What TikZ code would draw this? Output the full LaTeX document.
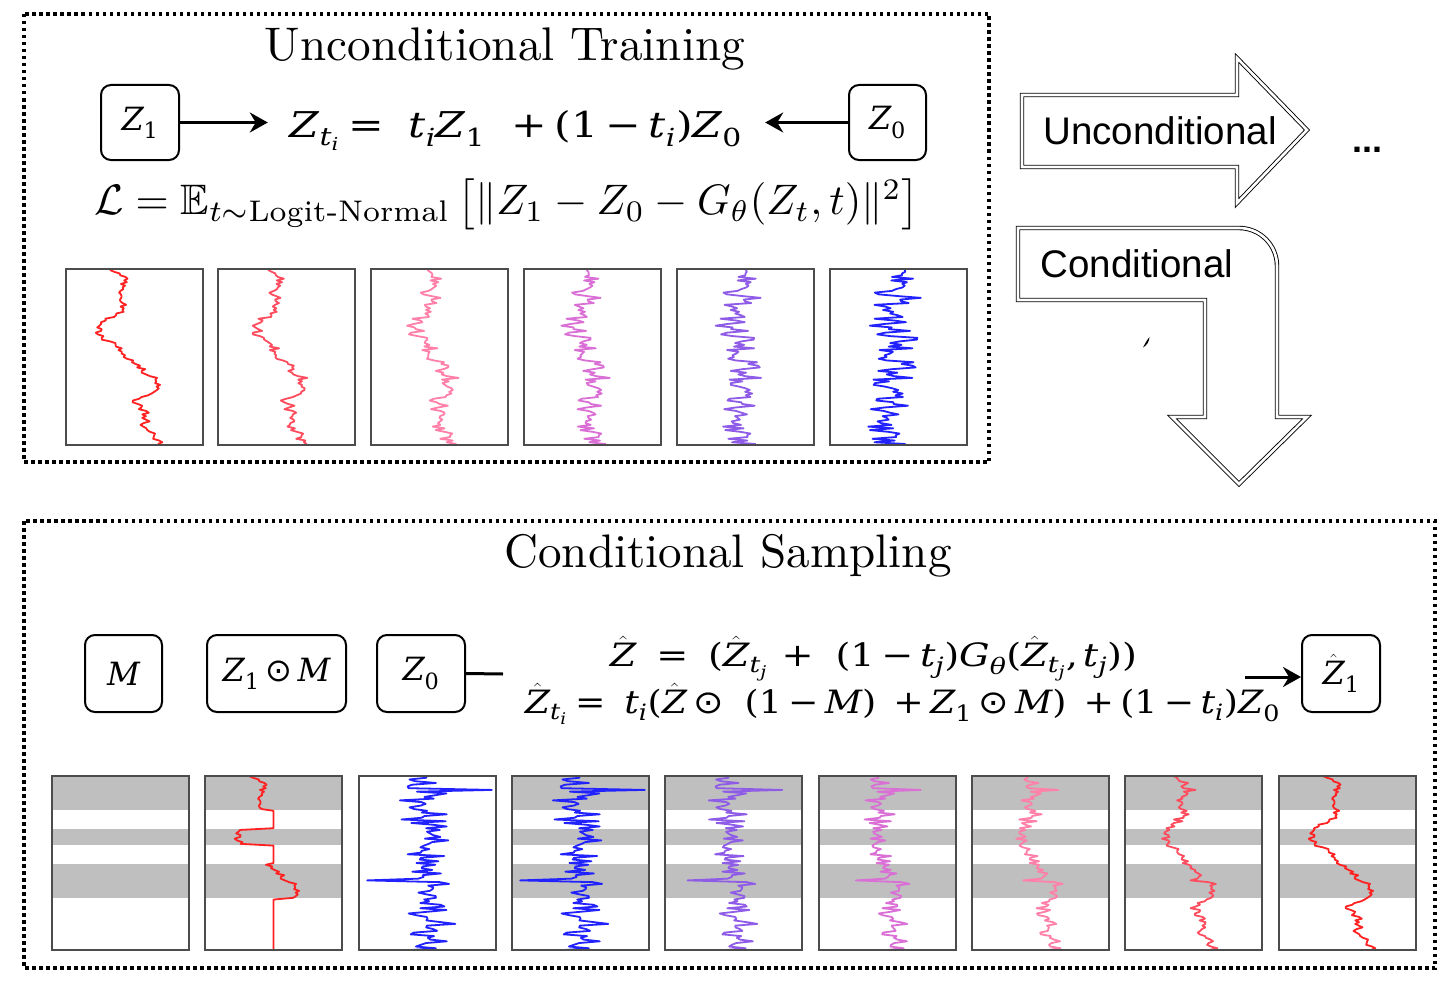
\documentclass[tikz,border=0pt]{standalone}
\usepackage{fontspec}
\usepackage{amsmath,amssymb}
\usepackage{graphicx}
\usetikzlibrary{arrows.meta}
\newfontfamily\ser{DejaVu Serif}
\newfontfamily\dvs{DejaVu Sans}
\newfontfamily\hel{Liberation Sans}
\newcommand\V[1]{\text{\ser\itshape #1}}
\newcommand\N[1]{\text{\ser #1}}
\newcommand\Pl{\mathbin{\N{+}}}
\newcommand\Mi{\mathbin{\N{−}}}
\newcommand\Eq{\mathrel{\N{=}}}
\newcommand\Od{\mathbin{\text{\dvs ⊙}}}
\newcommand\Zh{\hat{\V{Z}}}
\newcommand\Sp[1]{\hskip #1em\relax}
\newcommand\curveplot[7]{% #1 xleft, #2 ytop, #3 height, #4 t, #5 style, #6 arrayA, #7 arrayB
  \draw[curvest,#5] ({#1+137*(#4*\csname #60\endcsname+(1-#4)*\csname #70\endcsname)},#2)
   \foreach \i in {1,...,100}{ -- ({#1+137*(#4*\csname #6\i\endcsname+(1-#4)*\csname #7\i\endcsname)},{#2+(#3/100)*\i}) };
}
\newcommand\bandfill[1]{%
  \fill[bandst] (#1,776) rectangle ++(137,34);
  \fill[bandst] (#1,829) rectangle ++(137,16);
  \fill[bandst] (#1,864) rectangle ++(137,34);}
\definecolor{c0}{HTML}{FF2222}
\definecolor{c1}{HTML}{FF4D60}
\definecolor{c2}{HTML}{FF80A8}
\definecolor{c3}{HTML}{DA70D6}
\definecolor{c4}{HTML}{8F5CE8}
\definecolor{c5}{HTML}{2222FF}
\begin{document}
\begin{tikzpicture}[x=1pt,y=-1pt,
  frame/.style={line width=3.5pt,dash pattern=on 3.5pt off 3.5pt},
  rbox/.style={draw,line width=2pt,rounded corners=10pt,inner sep=0pt,font=\fontsize{32}{38}\selectfont},
  eqn/.style={anchor=base,inner sep=0pt,font=\fontsize{32}{38}\selectfont},
  arr/.style={line width=3pt,-{Stealth[length=18pt,width=20pt,inset=6pt]}},
  curvest/.style={line width=1.8pt,line join=round},
  pframe/.style={draw=black!70,line width=1.5pt},
  bandst/.style={fill=gray!50},
  dbl/.style={draw=black,line width=0.9pt,double=white,double distance=2.6pt,line join=miter},
  title/.style={anchor=base,inner sep=0pt},
  helv/.style={font=\hel\fontsize{38.5}{42}\selectfont,anchor=base,inner sep=0pt}]
\useasboundingbox (0,0) rectangle (1452,982);
% ---------- data ----------
\pgfmathsetseed{4242}
\gdef\jj{0}
\foreach \i in {0,...,100}{
  \pgfmathtruncatemacro\k{floor(\i/5)}
  \pgfmathsetmacro\fr{(\i-5*\k)/5}
  \pgfmathsetmacro\ca{{0.31,0.45,0.40,0.38,0.42,0.36,0.27,0.24,0.25,0.40,0.46,0.52,0.60,0.68,0.62,0.51,0.57,0.58,0.57,0.62,0.69,0.69}[\k]}
  \pgfmathsetmacro\cb{{0.31,0.45,0.40,0.38,0.42,0.36,0.27,0.24,0.25,0.40,0.46,0.52,0.60,0.68,0.62,0.51,0.57,0.58,0.57,0.62,0.69,0.69}[\k+1]}
  \pgfmathsetmacro\jn{0.5*\jj+0.035*rand}
  \xdef\jj{\jn}
  \pgfmathsetmacro\r{\ca+\fr*(\cb-\ca)+\jn}
  \expandafter\xdef\csname rw\i\endcsname{\r}
  \pgfmathsetmacro\s{\i/100}
  \pgfmathsetmacro\mk{(\s<0.196)+(\s>0.304)*(\s<0.398)+(\s>0.505)*(\s<0.702)}
  \pgfmathsetmacro\mv{\mk*\r+(1-\mk)*0.5}
  \expandafter\xdef\csname mk\i\endcsname{\mv}
  \pgfmathsetmacro\na{0.46+0.085*(rand+rand+rand)}
  \expandafter\xdef\csname nz\i\endcsname{\na}
  \pgfmathsetmacro\nb{0.50+0.085*(rand+rand+rand)}
  \expandafter\xdef\csname nzb\i\endcsname{\nb}
}
\expandafter\xdef\csname nzb8\endcsname{0.97}
\expandafter\xdef\csname nzb60\endcsname{0.06}
% ---------- top frame ----------
\draw[frame] (24,14) rectangle (989,462);
\node[title] (ttop) at (505,61) {\resizebox{480pt}{!}{Unconditional Training}};
\node[rbox,minimum width=78pt,minimum height=75pt] (z1t) at (140,122.5) {$\V{Z}_{\N{1}}$};
\node[rbox,minimum width=77pt,minimum height=75pt] (z0t) at (887.5,122.5) {$\V{Z}_{\N{0}}$};
\node[eqn] (eqt) at (516,138) {\resizebox{452pt}{27pt}{$\V{Z}_{\V{t}_{\V{i}}}\Eq\Sp{0.35}\V{t}_{\V{i}}\V{Z}_{\N{1}}\Sp{0.45}\Pl\N{(}\N{1}\Mi\V{t}_{\V{i}}\N{)}\V{Z}_{\N{0}}$}};
\draw[arr] (z1t.east) -- ([xshift=-22pt]z1t.east -| eqt.west);
\draw[arr] (z0t.west) -- ([xshift=23pt]z0t.west -| eqt.east);
\node[inner sep=0pt] (loss) at (507,204) {\resizebox{825pt}{!}{$\mathcal{L}=\mathbb{E}_{t\sim\text{Logit-Normal}}\left[\|Z_1-Z_0-G_\theta(Z_t,t)\|^2\right]$}};
% top panels
\foreach \xx/\tv/\cc in {66/1/c0,218/0.8/c1,371/0.6/c2,524/0.4/c3,677/0.2/c4,830/0/c5}{
  \curveplot{\xx}{270}{174}{\tv}{\cc}{rw}{nz}
  \draw[pframe] (\xx,269) rectangle ++(137,176);
}
% ---------- right arrows ----------
\draw[dbl] (1022,95) -- (1237,95) -- (1237,58) -- (1307,130) -- (1237,203) -- (1237,167) -- (1022,167) -- cycle;
\node[helv] (unc) at (1160,144) {Unconditional};
\node[font=\hel\bfseries\fontsize{36}{40}\selectfont,anchor=base,inner sep=0pt] (dots) at (1367,152) {...};
\draw[dbl] (1018,228) [rounded corners=38pt] -- (1277,228) -- (1277,320) [sharp corners] -- (1277,417) -- (1307,417) -- (1239,484) -- (1172,417) -- (1205,417) -- (1205,300) -- (1018,300) -- cycle;
\node[helv] (cond) at (1137,277) {Conditional};
\fill (1149.5,337) .. controls (1149,342) and (1147,345) .. (1143,347.5) .. controls (1144.5,345) and (1145.5,342) .. (1149.5,337) -- cycle;
% ---------- bottom frame ----------
\draw[frame] (24,521) rectangle (1435,968);
\node[title] (tbot) at (728,567) {\resizebox{447pt}{!}{Conditional Sampling}};
\node[rbox,minimum width=77pt,minimum height=77pt] (mb) at (123.5,673.5) {$\V{M}$};
\node[rbox,minimum width=139pt,minimum height=77pt] (zmb) at (276.5,673.5) {$\V{Z}_{\N{1}}\Od\V{M}$};
\node[rbox,minimum width=88pt,minimum height=77pt] (z0b) at (421,673.5) {$\V{Z}_{\N{0}}$};
\node[rbox,minimum width=78pt,minimum height=77pt] (z1h) at (1341,673.5) {$\Zh_{\N{1}}$};
\node[eqn] (eqb1) at (873.5,666) {\resizebox{527pt}{30pt}{$\Zh\Sp{0.3}\Eq\Sp{0.3}\N{(}\Zh_{\V{t}_{\V{j}}}\Sp{0.2}\Pl\Sp{0.4}\N{(}\N{1}\Mi\V{t}_{\V{j}}\N{)}\V{G}_{\V{θ}}\N{(}\Zh_{\V{t}_{\V{j}}}\N{,}\,\V{t}_{\V{j}}\N{))}$}};
\node[eqn] (eqb2) at (902.5,713) {\resizebox{755pt}{30pt}{$\Zh_{\V{t}_{\V{i}}}\Eq\Sp{0.3}\V{t}_{\V{i}}\N{(}\Zh\Od\Sp{0.4}\N{(}\N{1}\Mi\V{M}\N{)}\Sp{0.3}\Pl\V{Z}_{\N{1}}\Od\V{M}\N{)}\Sp{0.3}\Pl\N{(}\N{1}\Mi\V{t}_{\V{i}}\N{)}\V{Z}_{\N{0}}$}};
\coordinate (jn) at (503,674);
\draw[line width=3pt] (z0b.east) -- (jn);
\coordinate (as) at (1245,677);
\draw[arr] (as) -- (as -| z1h.west);
% bottom panels
\bandfill{52}
\draw[pframe] (52,776) rectangle ++(137,174);
\bandfill{205}
\curveplot{205}{776}{174}{1}{c0}{mk}{mk}
\draw[pframe] (205,776) rectangle ++(137,174);
\curveplot{359}{776}{174}{0}{c5}{rw}{nzb}
\draw[pframe] (359,776) rectangle ++(137,174);
\foreach \xx/\tv/\cc in {512/0/c5,665/0.2/c4,819/0.4/c3,972/0.6/c2,1125/0.8/c1,1279/1/c0}{
  \bandfill{\xx}
  \curveplot{\xx}{776}{174}{\tv}{\cc}{rw}{nzb}
  \draw[pframe] (\xx,776) rectangle ++(137,174);
}
\end{tikzpicture}
\end{document}
